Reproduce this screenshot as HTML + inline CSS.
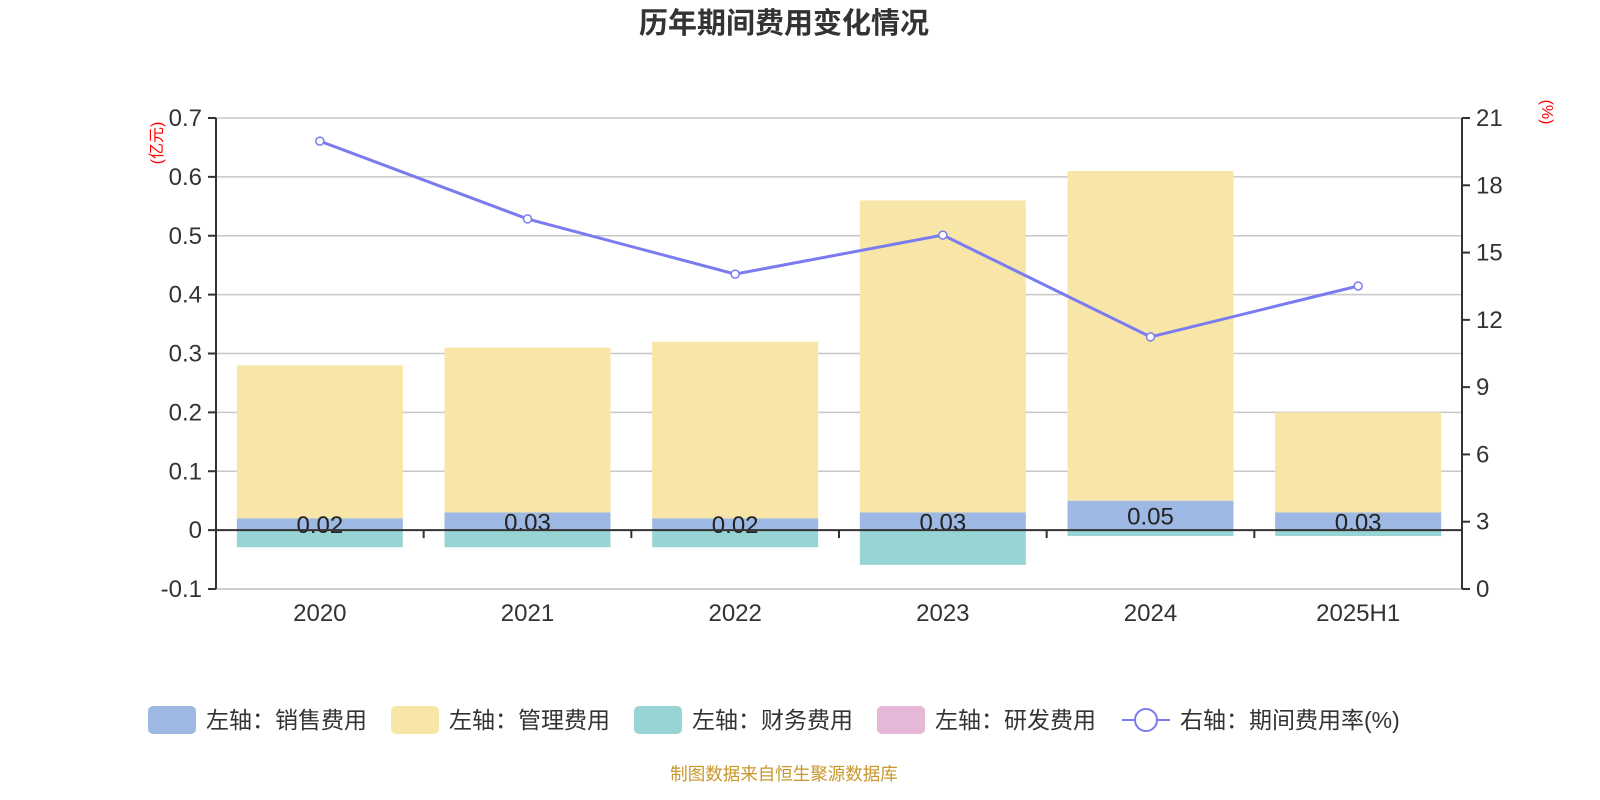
<!DOCTYPE html>
<html><head><meta charset="utf-8">
<style>
html,body{margin:0;padding:0;background:#fff;}
svg{display:block;font-family:"Liberation Sans","Noto Sans CJK SC",sans-serif;}
</style></head>
<body>
<svg id="chart" width="1600" height="800" viewBox="0 0 1600 800">
<text x="784" y="33" text-anchor="middle" font-size="29" font-weight="bold" fill="#333">历年期间费用变化情况</text>
<g id="grid"></g>
<g id="bars"></g>
<g id="axes"></g>
<g id="line"></g>
<text transform="translate(162,143) rotate(-90)" text-anchor="middle" font-size="16" fill="#f00">(亿元)</text>
<text transform="translate(1542,112) rotate(90)" text-anchor="middle" font-size="16" fill="#f00">(%)</text>
<g id="legend" font-size="23" fill="#333">
  <g><rect x="148" y="706" width="48" height="28" rx="5" fill="#9db8e2"/><text x="206" y="728">左轴：销售费用</text></g>
  <g><rect x="391" y="706" width="48" height="28" rx="5" fill="#f8e6a8"/><text x="449" y="728">左轴：管理费用</text></g>
  <g><rect x="634" y="706" width="48" height="28" rx="5" fill="#98d4d4"/><text x="692" y="728">左轴：财务费用</text></g>
  <g><rect x="877" y="706" width="48" height="28" rx="5" fill="#e6b8d8"/><text x="935" y="728">左轴：研发费用</text></g>
  <g><line x1="1122" y1="720" x2="1170" y2="720" stroke="#7b7bf0" stroke-width="2"/><circle cx="1146" cy="720" r="11" fill="#fff" stroke="#7b7bf0" stroke-width="2"/><text x="1180" y="728">右轴：期间费用率(%)</text></g>
</g>
<text x="784" y="780" text-anchor="middle" font-size="17.5" fill="#c8962a">制图数据来自恒生聚源数据库</text>
</svg>
<script>
const categories = ["2020","2021","2022","2023","2024","2025H1"];
const salesValues = [0.02,0.03,0.02,0.03,0.05,0.03];
const mgmtValues = [0.26,0.28,0.30,0.53,0.56,0.17];
const financeValues = [-0.029,-0.029,-0.029,-0.059,-0.01,-0.01];
const rndValues = [0,0,0,0,0,0];
const rateValues = [19.97,16.5,14.04,15.78,11.24,13.51];
const leftTicks = [-0.1,0,0.1,0.2,0.3,0.4,0.5,0.6,0.7];
const rightTicks = [0,3,6,9,12,15,18,21];

const NS="http://www.w3.org/2000/svg";
const X0=216,X1=1462,YT=118,YB=589;
const yL=v=>YB-(v-(-0.1))/0.8*(YB-YT);
const yR=v=>YB-v/21*(YB-YT);
const band=(X1-X0)/categories.length;
const xC=i=>X0+band*(i+0.5);
const BW=166;
function mk(tag,attrs,parent){const e=document.createElementNS(NS,tag);for(const k in attrs)e.setAttribute(k,attrs[k]);parent.appendChild(e);return e;}
const grid=document.getElementById('grid'),bars=document.getElementById('bars'),axes=document.getElementById('axes'),line=document.getElementById('line');

leftTicks.forEach(t=>{
  const y=yL(t);
  if(Math.abs(t)>1e-9){const g=mk('line',{x1:X0,x2:X1,y1:y,y2:y,stroke:'#c8c8c8','stroke-width':1.5},grid);
  
  }
  mk('line',{x1:X0-8,x2:X0,y1:y,y2:y,stroke:'#333','stroke-width':2},axes);
  const tx=mk('text',{x:X0-14,y:y+8,'text-anchor':'end','font-size':24,fill:'#333'},axes);
  tx.textContent=t===0?'0':t.toFixed(1);
  
  
});
rightTicks.forEach(t=>{
  const y=yR(t);
  mk('line',{x1:X1,x2:X1+8,y1:y,y2:y,stroke:'#333','stroke-width':2},axes);
  const tx=mk('text',{x:X1+14,y:y+8,'font-size':24,fill:'#333'},axes);
  tx.textContent=String(t);
  
  
});
mk('line',{x1:X0,x2:X0,y1:YT,y2:YB,stroke:'#333','stroke-width':2},axes);
mk('line',{x1:X1,x2:X1,y1:YT,y2:YB,stroke:'#333','stroke-width':2},axes);
const y0=yL(0);
mk('line',{x1:X0,x2:X1,y1:y0,y2:y0,stroke:'#333','stroke-width':2},axes);
for(let i=0;i<=categories.length;i++){const x=X0+band*i;mk('line',{x1:x,x2:x,y1:y0,y2:y0+8,stroke:'#333','stroke-width':2},axes);}
mk('line',{x1:X0,x2:X1,y1:YB,y2:YB,stroke:'#c8c8c8','stroke-width':1.5},grid);

categories.forEach((c,i)=>{
  const x=xC(i)-BW/2;
  const s=mk('rect',{x:x,y:yL(salesValues[i]),width:BW,height:y0-yL(salesValues[i]),fill:'#9db8e2'},bars);
  
  
  const m=mk('rect',{x:x,y:yL(salesValues[i]+mgmtValues[i]),width:BW,height:yL(salesValues[i])-yL(salesValues[i]+mgmtValues[i]),fill:'#f8e6a8'},bars);
  
  
  const f=mk('rect',{x:x,y:y0,width:BW,height:yL(financeValues[i])-y0,fill:'#98d4d4'},bars);
  
  
  if(rndValues[i]>0){const r=mk('rect',{x:x,y:yL(salesValues[i]+mgmtValues[i]+rndValues[i]),width:BW,height:yL(salesValues[i]+mgmtValues[i])-yL(salesValues[i]+mgmtValues[i]+rndValues[i]),fill:'#e6b8d8'},bars);
  
  }
  const lb=mk('text',{x:xC(i),y:(yL(salesValues[i])+y0)/2+9,'text-anchor':'middle','font-size':24,fill:'#222'},bars);
  lb.textContent=salesValues[i].toFixed(2);
  
  
  const cl=mk('text',{x:xC(i),y:621,'text-anchor':'middle','font-size':24,fill:'#333'},axes);
  cl.textContent=c;
  
  
});
const pts=rateValues.map((v,i)=>xC(i)+','+yR(v)).join(' ');
const pl=mk('polyline',{points:pts,fill:'none',stroke:'#7b7bf0','stroke-width':3},line);


rateValues.forEach((v,i)=>{
  const p=mk('circle',{cx:xC(i),cy:yR(v),r:4,fill:'#fff',stroke:'#7b7bf0','stroke-width':1.5},line);
  
  
});
</script>
</body></html>
